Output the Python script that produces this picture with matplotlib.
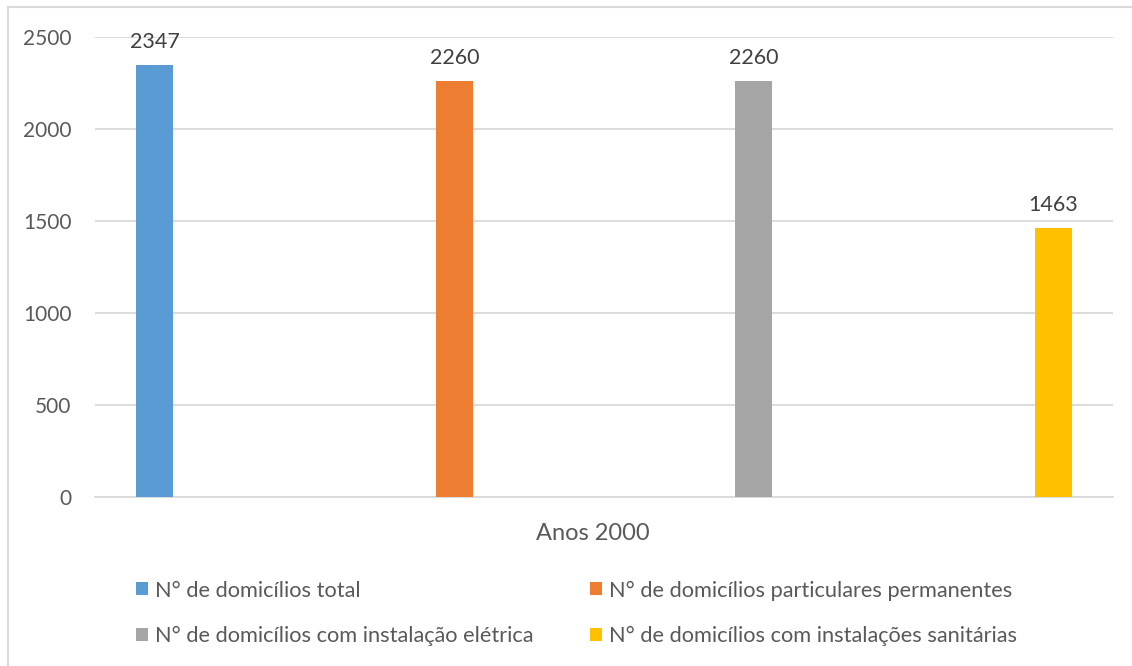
import matplotlib.pyplot as plt
from matplotlib.lines import Line2D
from matplotlib.patches import Patch

plt.rcParams["font.family"] = ["Lato", "DejaVu Sans"]

# ── Data ─────────────────────────────────────────────────────────────
series = [
    "N° de domicílios total",
    "N° de domicílios particulares permanentes",
    "N° de domicílios com instalação elétrica",
    "N° de domicílios com instalações sanitárias",
]
values = [2347, 2260, 2260, 1463]
category = "Anos 2000"
yticks = [0, 500, 1000, 1500, 2000, 2500]

COLORS = ["#5B9BD5", "#ED7D31", "#A5A5A5", "#FFC000"]
TEXT = "#595959"
GRID = "#D9D9D9"

W, H = 1132, 666
fig = plt.figure(figsize=(W / 100, H / 100), dpi=100)
ax = fig.add_axes([95 / W, 1 - 497 / H, (1113 - 95) / W, (497 - 37) / H])

xs = list(range(len(values)))
bars = ax.bar(xs, values, width=0.123, color=COLORS, zorder=3)
for x, v in zip(xs, values):
    ax.annotate(str(v), (x, v), xytext=(0, 9.5), textcoords="offset points",
                ha="center", va="bottom", fontsize=15.5, color="#404040")

ax.set_xlim(-0.2, 3.2)
ax.set_ylim(0, 2500)
ax.set_yticks(yticks)
ax.yaxis.grid(True, color=GRID, linewidth=1.3, zorder=0)
ax.set_axisbelow(True)
ax.tick_params(axis="y", length=0, pad=17, labelsize=15, labelcolor=TEXT)
ax.set_xticks([])
for s in ["top", "right", "left"]:
    ax.spines[s].set_visible(False)
ax.spines["bottom"].set_color(GRID)
ax.spines["bottom"].set_linewidth(1.3)

fig.text(593 / W, 1 - 533 / H, category, ha="center", va="center",
         fontsize=17, color=TEXT)

# legend: column-wise fill, so reorder to get the two rows right
order = [0, 2, 1, 3]
handles = [Patch(facecolor=COLORS[i], edgecolor="none") for i in order]
labels = [series[i] for i in order]
fig.legend(handles, labels, ncol=2, loc="upper left",
           bbox_to_anchor=(119 / W, 1 - 563 / H), frameon=False,
           fontsize=15.7, labelcolor=TEXT, handlelength=0.55, handleheight=0.55,
           handletextpad=0.3, columnspacing=2.6, labelspacing=1.17,
           borderpad=0.3)

# outer chart border (top and left edges)
fig.add_artist(Line2D([8 / W, 1], [1 - 7 / H, 1 - 7 / H], color=GRID, lw=1.5,
                      transform=fig.transFigure))
fig.add_artist(Line2D([8 / W, 8 / W], [0, 1 - 7 / H], color=GRID, lw=1.5,
                      transform=fig.transFigure))

fig.savefig("out.png", dpi=100, facecolor="white")
